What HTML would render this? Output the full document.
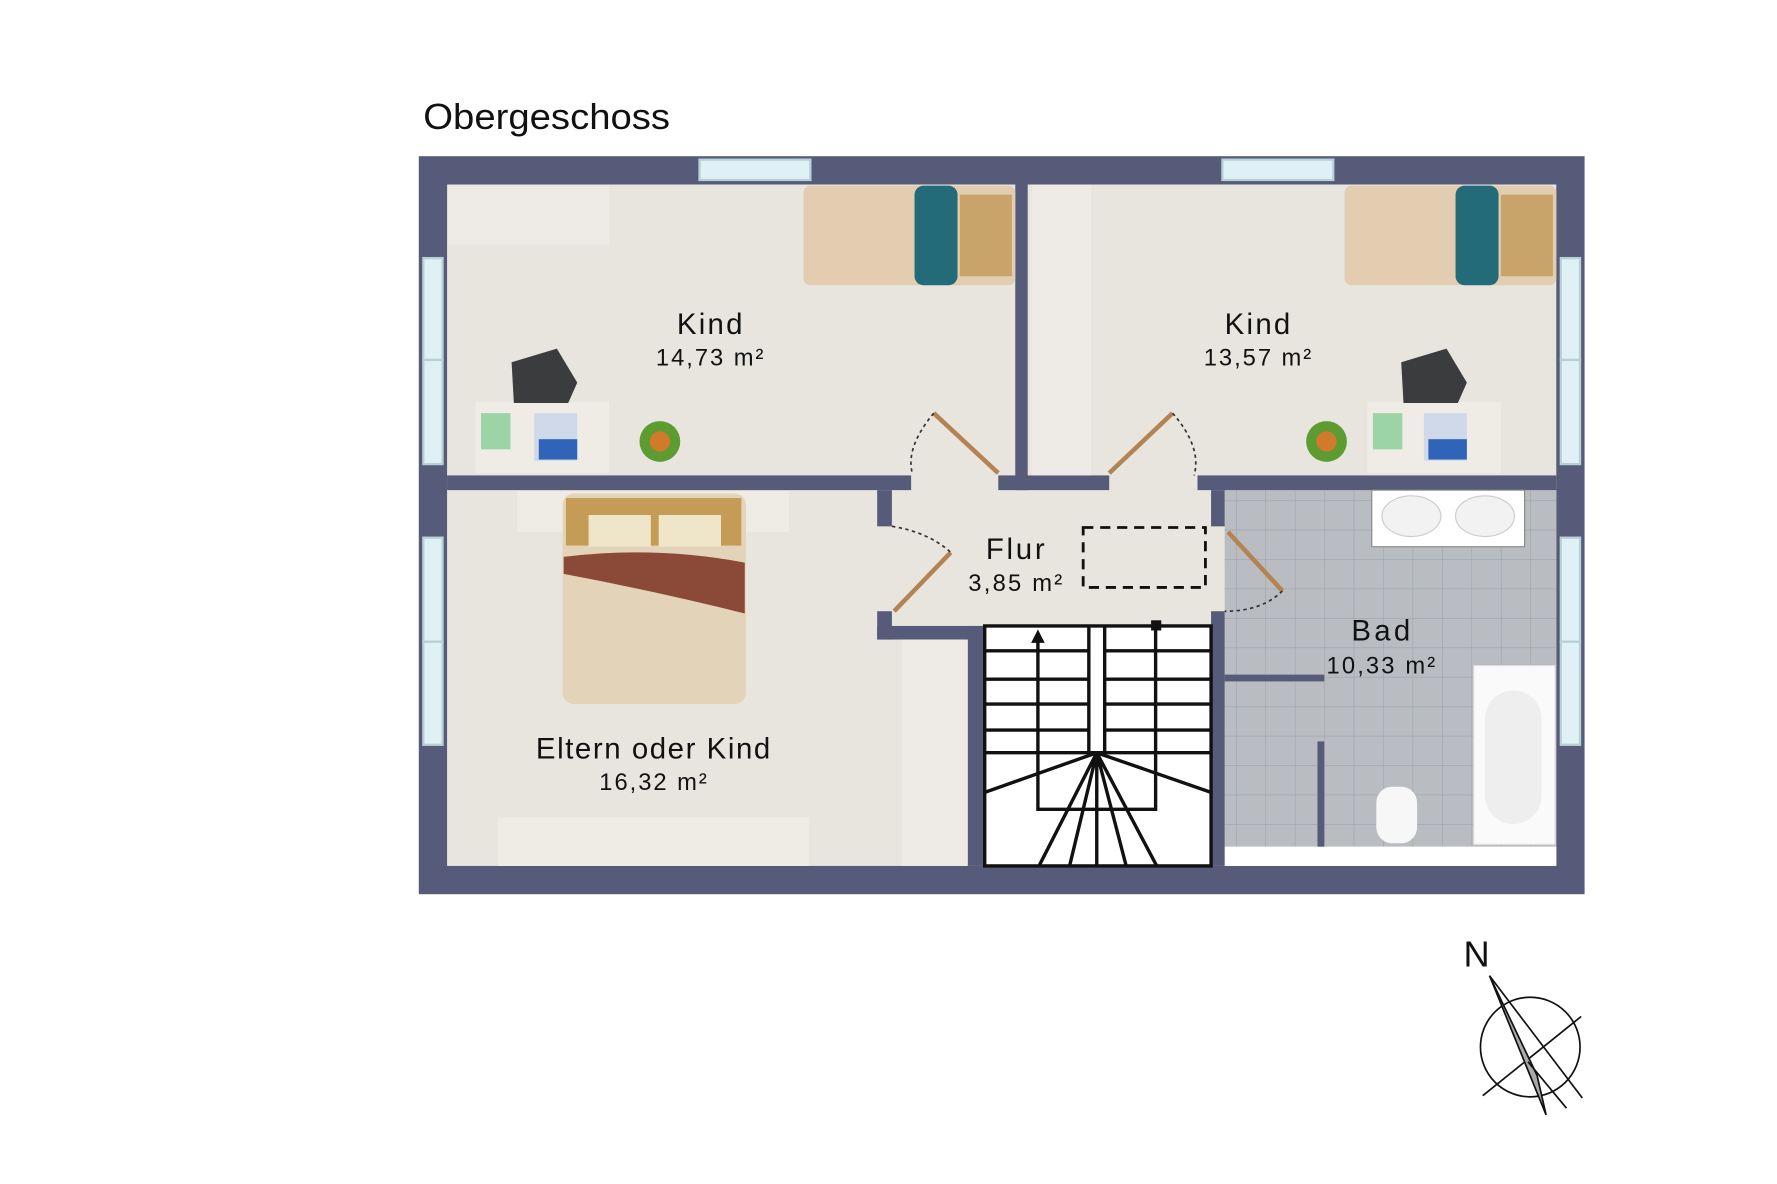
<!DOCTYPE html>
<html><head><meta charset="utf-8"><style>html,body{margin:0;padding:0;background:#fff}svg{display:block}text{font-family:"Liberation Sans",sans-serif;fill:#111}</style></head>
<body>
<svg width="1777" height="1184" viewBox="0 0 1570 1046" preserveAspectRatio="none" xmlns="http://www.w3.org/2000/svg">
<rect width="1570" height="1046" fill="#fff"/>
<text x="374" y="114" font-size="32" textLength="218" lengthAdjust="spacingAndGlyphs">Obergeschoss</text>
<rect x="370" y="138" width="1030" height="652" fill="#555b78"/>
<rect x="395" y="163" width="980" height="602" fill="#e8e5df"/>
<defs><pattern id="t" width="26" height="26" patternUnits="userSpaceOnUse"><rect width="26" height="26" fill="#b9bdc2"/><path d="M0 0H26M0 0V26" stroke="#9fa4aa" stroke-width="1"/></pattern></defs>
<rect x="1082" y="433" width="293" height="315" fill="url(#t)"/>
<rect x="1082" y="748" width="293" height="17" fill="#fff"/>
<g fill="#555b78">
<rect x="897" y="163" width="11" height="270"/>
<rect x="395" y="420" width="410" height="13"/>
<rect x="882" y="420" width="98" height="13"/>
<rect x="1058" y="420" width="317" height="13"/>
<rect x="775" y="433" width="13" height="32"/>
<rect x="775" y="540" width="13" height="25"/>
<rect x="775" y="553" width="95" height="12"/>
<rect x="855" y="553" width="15" height="212"/>
<rect x="1070" y="433" width="12" height="32"/>
<rect x="1070" y="540" width="12" height="225"/>
<rect x="1082" y="596" width="88" height="6"/>
<rect x="1164" y="655" width="6" height="93"/>
</g>
<g fill="#dff1f4" stroke="#b7d0d6" stroke-width="2">
<rect x="618" y="141" width="98" height="18"/><rect x="1080" y="141" width="98" height="18"/>
<rect x="374" y="228" width="17" height="90"/><rect x="374" y="318" width="17" height="92"/>
<rect x="374" y="475" width="17" height="92"/><rect x="374" y="567" width="17" height="91"/>
<rect x="1379" y="228" width="17" height="90"/><rect x="1379" y="318" width="17" height="92"/>
<rect x="1379" y="475" width="17" height="92"/><rect x="1379" y="567" width="17" height="91"/>
</g>
<rect x="396" y="164" width="142" height="52" fill="#eeebe6"/>
<rect x="710" y="164" width="187" height="88" rx="6" fill="#e3cdb0"/>
<rect x="808" y="164" width="38" height="88" rx="8" fill="#236b78"/>
<rect x="848" y="172" width="46" height="72" fill="#c8a46a"/>
<rect x="420" y="355" width="118" height="63" fill="#efece6"/>
<rect x="425" y="365" width="26" height="32" fill="#9cd4a6"/>
<rect x="472" y="365" width="38" height="42" fill="#cfd9ea"/><rect x="476" y="388" width="34" height="18" fill="#2f64b8"/>
<path d="M452 320 l40 -12 l18 30 l-8 18 h-48z" fill="#3a3c3e"/>
<circle cx="583" cy="390" r="18" fill="#5c9c30"/><circle cx="583" cy="390" r="9" fill="#d07a2c"/>
<rect x="912" y="163" width="52" height="257" fill="#eeebe6"/>
<rect x="1188" y="164" width="187" height="88" rx="6" fill="#e3cdb0"/>
<rect x="1286" y="164" width="38" height="88" rx="8" fill="#236b78"/>
<rect x="1326" y="172" width="46" height="72" fill="#c8a46a"/>
<rect x="1208" y="355" width="118" height="63" fill="#efece6"/>
<rect x="1213" y="365" width="26" height="32" fill="#9cd4a6"/>
<rect x="1258" y="365" width="38" height="42" fill="#cfd9ea"/><rect x="1262" y="388" width="34" height="18" fill="#2f64b8"/>
<path d="M1238 320 l40 -12 l18 30 l-8 18 h-48z" fill="#3a3c3e"/>
<circle cx="1172" cy="390" r="18" fill="#5c9c30"/><circle cx="1172" cy="390" r="9" fill="#d07a2c"/>
<rect x="457" y="434" width="240" height="36" fill="#efece6"/>
<rect x="497" y="436" width="162" height="186" rx="10" fill="#e3d3b8"/>
<rect x="500" y="440" width="155" height="42" fill="#c59c55"/>
<rect x="520" y="455" width="55" height="28" fill="#efe5c8"/><rect x="582" y="455" width="55" height="28" fill="#efe5c8"/>
<path d="M498 492 q80 -10 160 5 v45 q-80 -20 -160 -35z" fill="#8b4a38"/>
<rect x="440" y="722" width="275" height="43" fill="#efece6"/>
<rect x="797" y="565" width="58" height="200" fill="#eeebe6"/>
<rect x="1212" y="433" width="135" height="50" fill="#fff" stroke="#888"/>
<ellipse cx="1247" cy="456" rx="26" ry="18" fill="#f2f2f2" stroke="#ccc"/><ellipse cx="1312" cy="456" rx="26" ry="18" fill="#f2f2f2" stroke="#ccc"/>
<rect x="1302" y="588" width="72" height="158" fill="#fafafa" stroke="#ddd"/>
<rect x="1312" y="610" width="50" height="118" rx="25" fill="#eee"/>
<rect x="1216" y="695" width="36" height="50" rx="14" fill="#f7f7f7"/>
<g fill="none" stroke="#111" stroke-width="3">
<rect x="870" y="553" width="200" height="212" fill="#fff"/>
<path d="M962 553V665M976 553V665M962 665h14"/>
<path d="M870 575h92M870 600h92M870 622h92M870 645h92M976 575h94M976 600h94M976 622h94M976 645h94M870 665h200"/>
<path d="M917 560V715h104V555"/>
<path d="M969 665L870 700M969 665L918 765M969 665L945 765M969 665V765M969 665L995 765M969 665L1022 765M969 665L1070 700"/>
</g>
<path d="M917 556l-6 12h12z" fill="#111"/><rect x="1017" y="548" width="9" height="9" fill="#111"/>
<g stroke="#b58352" stroke-width="4"><path d="M825 365L882 418M1036 365L980 418M840 488L790 540M1085 470L1133 522"/></g>
<g fill="none" stroke="#333" stroke-width="1.5" stroke-dasharray="3 3"><path d="M825 365Q800 395 806 418M1036 365Q1062 395 1055 420M788 465Q820 470 840 488M1133 522Q1115 540 1082 540"/></g>
<rect x="957" y="466" width="108" height="53" fill="none" stroke="#111" stroke-width="2.5" stroke-dasharray="9 6"/>
<g text-anchor="middle" lengthAdjust="spacingAndGlyphs">
<text x="627" y="295" font-size="26" textLength="58">Kind</text><text x="627" y="323" font-size="21" textLength="95">14,73 m²</text>
<text x="1111" y="295" font-size="26" textLength="58">Kind</text><text x="1111" y="323" font-size="21" textLength="95">13,57 m²</text>
<text x="897" y="494" font-size="26" textLength="52">Flur</text><text x="897" y="522" font-size="21" textLength="83">3,85 m²</text>
<text x="1220" y="566" font-size="26" textLength="52">Bad</text><text x="1220" y="595" font-size="21" textLength="96">10,33 m²</text>
<text x="577" y="670" font-size="26" textLength="207">Eltern oder Kind</text><text x="577" y="698" font-size="21" textLength="95">16,32 m²</text>
</g>
<text x="1293" y="854" font-size="32">N</text>
<circle cx="1352" cy="925" r="44" fill="none" stroke="#111" stroke-width="1.5"/>
<path d="M1310 968L1397 898" stroke="#111" stroke-width="1.5"/>
<path d="M1316 862L1366 985L1358 950z" fill="#aaa" stroke="#111" stroke-width="1.5"/>
<path d="M1316 862L1398 970M1350 938L1384 979" stroke="#111" stroke-width="1.5"/>
</svg>
</body></html>
